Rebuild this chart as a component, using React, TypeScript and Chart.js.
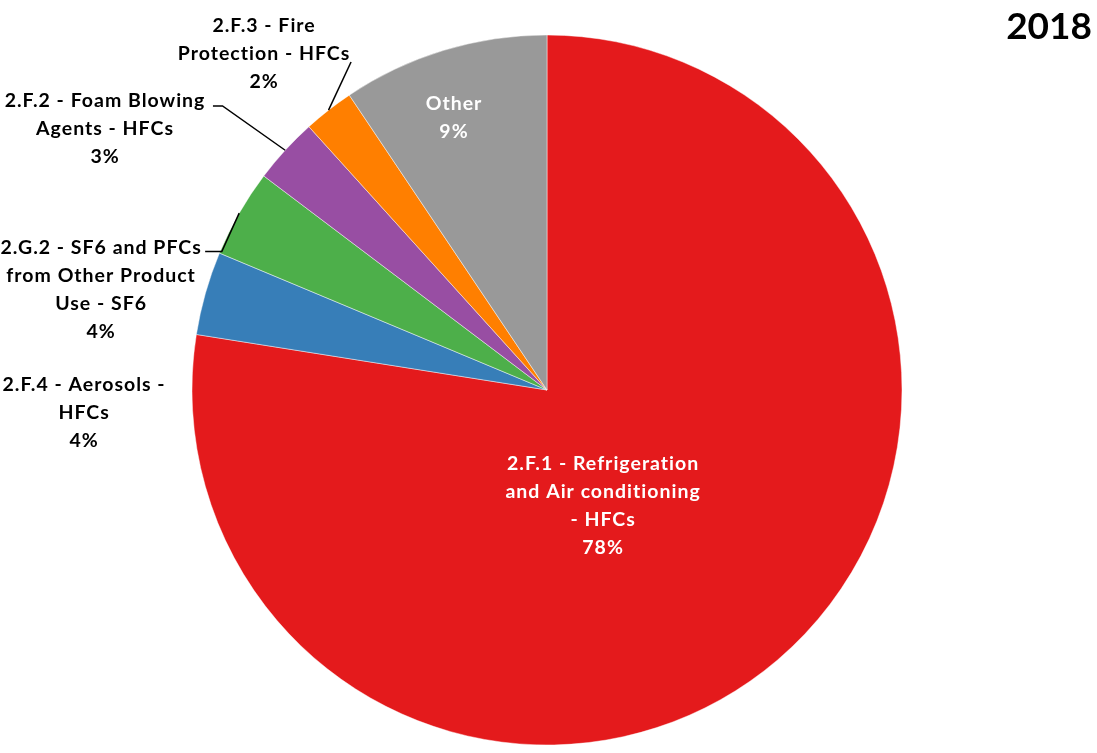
import React, { useEffect, useRef } from "react";
import { Chart, registerables } from "chart.js";

Chart.register(...registerables);

const year = "2018";

const categories = [
  "2.F.1 - Refrigeration and Air conditioning - HFCs",
  "2.F.4 - Aerosols - HFCs",
  "2.G.2 - SF6 and PFCs from Other Product Use - SF6",
  "2.F.2 - Foam Blowing Agents - HFCs",
  "2.F.3 - Fire Protection - HFCs",
  "Other",
];

const labelLines = [
  ["2.F.1 - Refrigeration", "and Air conditioning", "- HFCs"],
  ["2.F.4 - Aerosols -", "HFCs"],
  ["2.G.2 - SF6 and PFCs", "from Other Product", "Use - SF6"],
  ["2.F.2 - Foam Blowing", "Agents - HFCs"],
  ["2.F.3 - Fire", "Protection - HFCs"],
  ["Other"],
];

const values = [77.5, 3.8, 4.0, 3.0, 2.3, 9.4];

const colors = ["#E41A1C", "#377EB8", "#4DAF4A", "#984EA3", "#FF7F00", "#999999"];

// label layout (in units of the pie radius, relative to the pie centre)
const labelPos: [number, number][] = [
  [0.158, 0.327],
  [-1.304, 0.065],
  [-1.256, -0.282],
  [-1.245, -0.735],
  [-0.797, -0.946],
  [-0.262, -0.768],
];
const labelColor = ["#ffffff", "#000000", "#000000", "#000000", "#000000", "#ffffff"];
// leader lines: [elbow, end] in radius units, or null
const leaders: ([number, number][] | null)[] = [
  null,
  null,
  [
    [-0.916, -0.39],
    [-0.963, -0.39],
  ],
  [
    [-0.914, -0.8],
    [-0.941, -0.8],
  ],
  [
    [-0.552, -0.924],
    [-0.552, -0.924],
  ],
  null,
];

const FONT = "Lato, 'Open Sans', sans-serif";

const labelPlugin = {
  id: "pieLabels",
  afterDatasetsDraw(chart: any) {
    const ctx = chart.ctx;
    const meta = chart.getDatasetMeta(0);
    const total = values.reduce((a, b) => a + b, 0);
    ctx.save();
    meta.data.forEach((arc: any, i: number) => {
      const { x, y, outerRadius, startAngle, endAngle } = arc.getProps(
        ["x", "y", "outerRadius", "startAngle", "endAngle"],
        true
      );
      const R = outerRadius;
      const ld = leaders[i];
      if (ld) {
        const mid = (startAngle + endAngle) / 2;
        ctx.beginPath();
        ctx.strokeStyle = "#000";
        ctx.lineWidth = 1.5;
        ctx.moveTo(x + Math.cos(mid) * R, y + Math.sin(mid) * R);
        ld.forEach((p) => ctx.lineTo(x + p[0] * R, y + p[1] * R));
        ctx.stroke();
      }
      const lines = [...labelLines[i], Math.round((values[i] / total) * 100) + "%"];
      const cx = x + labelPos[i][0] * R;
      const cy = y + labelPos[i][1] * R;
      const lh = 28;
      ctx.font = "bold 19.5px " + FONT;
      (ctx as any).letterSpacing = "1px";
      ctx.fillStyle = labelColor[i];
      ctx.textAlign = "center";
      ctx.textBaseline = "middle";
      lines.forEach((t, k) => {
        ctx.fillText(t, cx, cy + (k - (lines.length - 1) / 2) * lh);
      });
    });
    (ctx as any).letterSpacing = "0px";
    ctx.font = "bold 37px " + FONT;
    ctx.fillStyle = "#000";
    ctx.textAlign = "right";
    ctx.textBaseline = "alphabetic";
    ctx.fillText(year, 1092, 39);
    ctx.restore();
  },
};

export default function App() {
  const ref = useRef<HTMLCanvasElement>(null);
  useEffect(() => {
    document.body.style.margin = "0";
    const chart = new Chart(ref.current!, {
      type: "pie",
      data: {
        labels: categories,
        datasets: [
          {
            data: values,
            backgroundColor: colors,
            borderColor: "rgba(255,255,255,0.6)",
            borderWidth: 0.75,
            hoverOffset: 0,
            radius: 355,
          } as any,
        ],
      },
      options: {
        responsive: false,
        animation: false,
        layout: { padding: { left: 192, right: 195, top: 35, bottom: 8 } },
        plugins: {
          legend: { display: false },
          tooltip: { enabled: false },
          title: { display: false },
        },
      },
      plugins: [labelPlugin],
    });
    return () => chart.destroy();
  }, []);
  return (
    <div style={{ position: "fixed", left: 0, top: 0, width: 1097, height: 753, background: "#fff" }}>
      <canvas ref={ref} width={1097} height={753} style={{ display: "block" }} />
    </div>
  );
}
